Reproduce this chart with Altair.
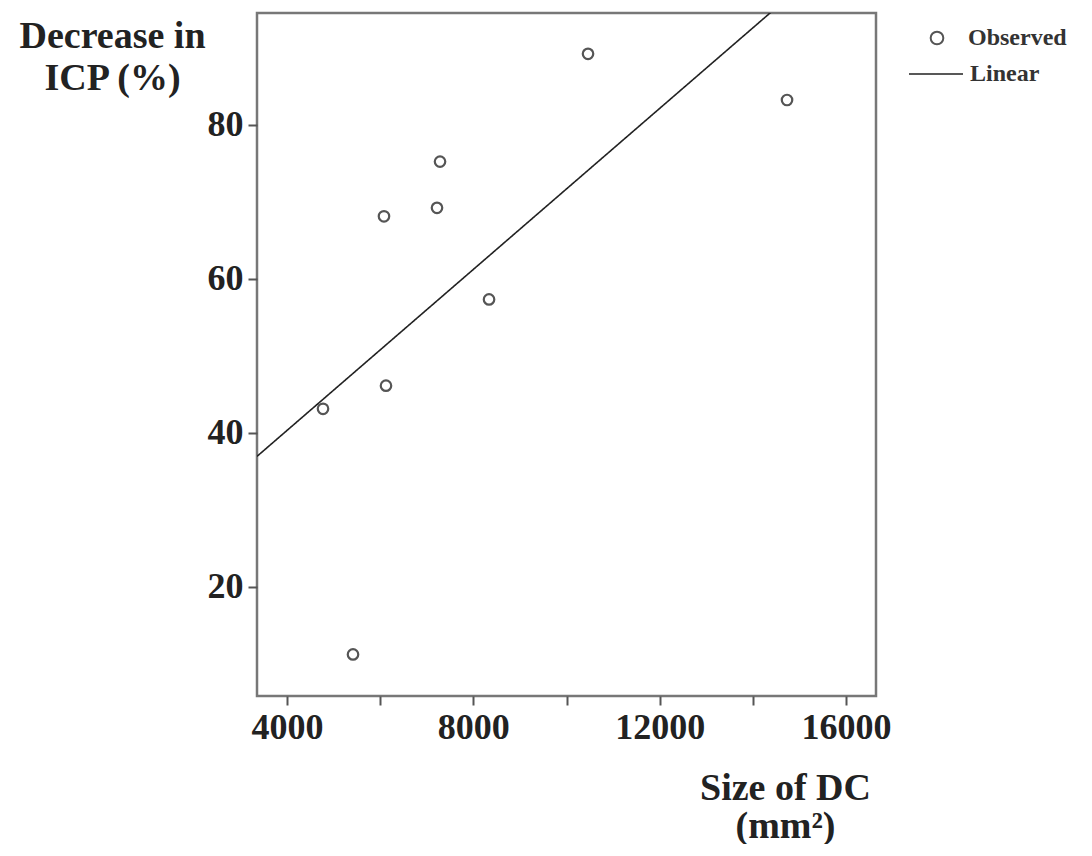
import altair as alt
import pandas as pd

# data
size_dc = [4773, 5417, 6082, 6125, 7220, 7285, 8337, 10462, 14734]
icp_decrease = [43.1, 11.2, 68.1, 46.1, 69.2, 75.2, 57.3, 89.2, 83.2]
x_ticks = [4000, 6000, 8000, 10000, 12000, 14000, 16000]
y_ticks = [20, 40, 60, 80]
x_domain = [3356, 16644]
y_domain = [5.8, 94.5]

df = pd.DataFrame({"size": size_dc, "icp": icp_decrease,
                   "obs": ["Observed"] * len(size_dc),
                   "fit": ["Linear"] * len(size_dc)})

FONT = "Liberation Serif"

x_enc = alt.X("size:Q",
              scale=alt.Scale(domain=x_domain, nice=False, zero=False),
              axis=alt.Axis(values=x_ticks, format="d",
                            labelExpr="datum.value % 4000 == 0 ? datum.label : ''",
                            title=["Size of DC", "(mm²)"],
                            titleX=528, titleY=103, titleAlign="center",
                            titleBaseline="alphabetic", titleLineHeight=38,
                            grid=False, domain=False, tickSize=9, tickWidth=2,
                            tickColor="#555", labelPadding=5))
y_enc = alt.Y("icp:Q",
              scale=alt.Scale(domain=y_domain, nice=False, zero=False),
              axis=alt.Axis(values=y_ticks,
                            title=["Decrease in", "ICP (%)"],
                            titleAngle=0, titleX=-145, titleY=34,
                            titleAlign="center", titleBaseline="alphabetic",
                            titleLineHeight=42,
                            grid=False, domain=False, tickSize=9, tickWidth=2,
                            tickColor="#555", labelPadding=5))

points = alt.Chart(df).mark_point(
    shape="circle", filled=False, size=110, strokeWidth=2.2, color="#555", opacity=1
).encode(
    x=x_enc, y=y_enc,
    shape=alt.Shape("obs:N", scale=alt.Scale(range=["circle"]),
                    legend=alt.Legend(title=None, orient="none", legendX=668, legendY=13,
                                      symbolSize=160, symbolStrokeColor="#555",
                                      symbolStrokeWidth=2, symbolFillColor="white",
                                      labelFont=FONT, labelFontSize=24,
                                      labelFontWeight="bold", labelColor="#333",
                                      labelOffset=19, padding=0)),
)

line = alt.Chart(df).transform_regression(
    "size", "icp", extent=x_domain, groupby=["fit"]
).mark_line(clip=True, color="#222", strokeWidth=1.6).encode(
    x="size:Q", y="icp:Q",
    strokeDash=alt.StrokeDash("fit:N", scale=alt.Scale(range=[[1, 0]]),
                              legend=alt.Legend(title=None, orient="none", legendX=651, legendY=33,
                                                symbolType="stroke", symbolSize=2916,
                                                symbolStrokeColor="#222", symbolStrokeWidth=1.6,
                                                labelFont=FONT, labelFontSize=24,
                                                labelFontWeight="bold", labelColor="#333",
                                                labelOffset=6, padding=0)),
)

chart = alt.layer(points, line).properties(
    width=619, height=683,
    autosize=alt.AutoSizeParams(type="none"),
    padding={"left": 249, "top": 5, "right": 205, "bottom": 148},
).configure_view(
    stroke="#777", strokeWidth=2.5
).configure_axis(
    labelFont=FONT, labelFontSize=36, labelFontWeight="bold", labelColor="#222",
    titleFont=FONT, titleFontSize=38, titleFontWeight="bold", titleColor="#222",
)

chart.save("out.html", embed_options={"renderer": "svg", "actions": False})
